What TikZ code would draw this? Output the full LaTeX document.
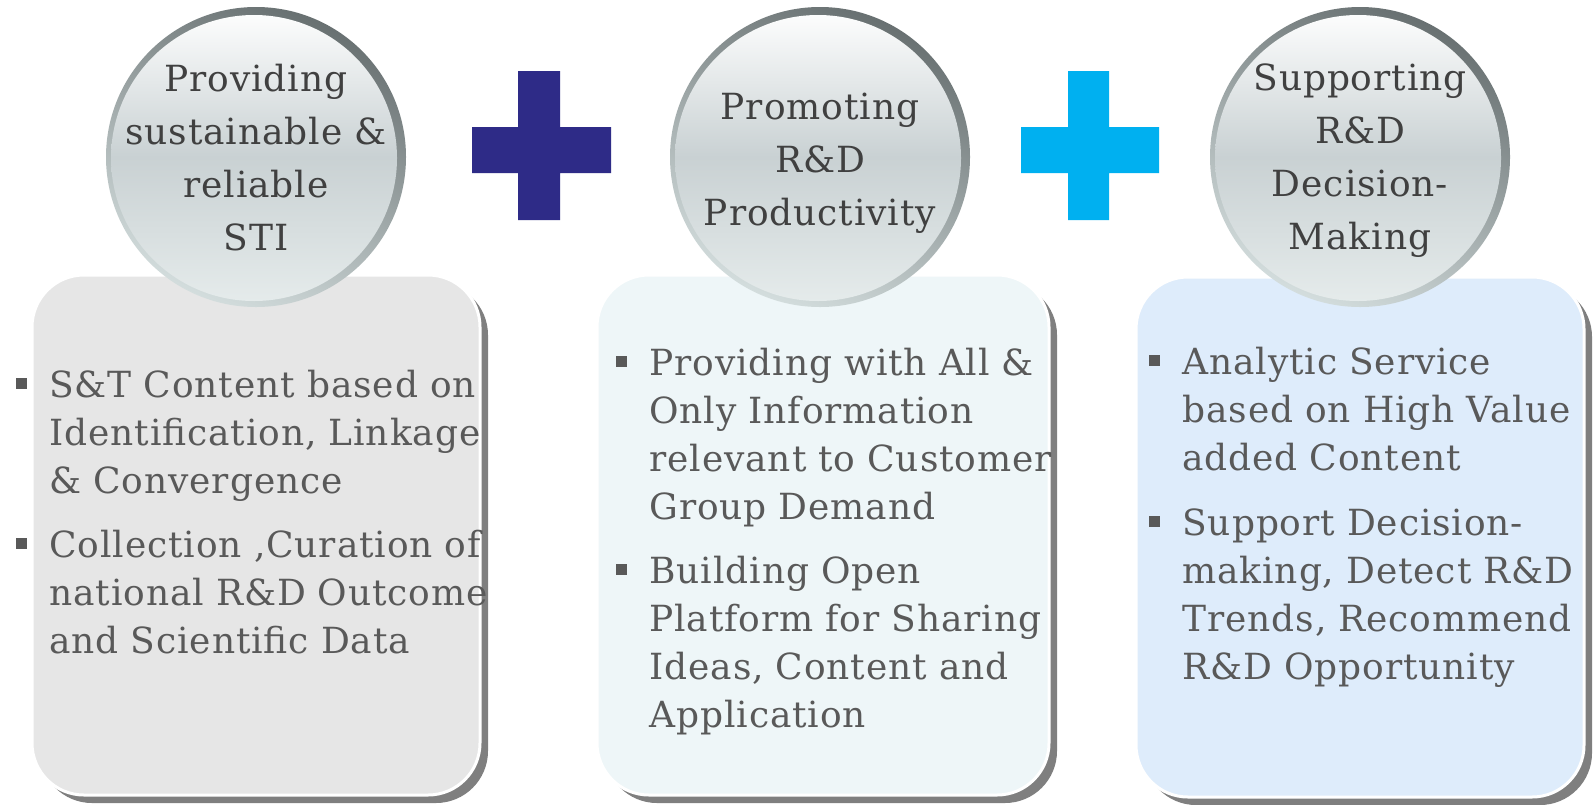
\documentclass[tikz,border=0pt]{standalone}
\usepackage{fontspec}
\setmainfont[LetterSpace=2.5]{DejaVu Serif}
\usetikzlibrary{calc}
\usetikzlibrary{positioning}
\usetikzlibrary{shadows}

\definecolor{plusnavy}{HTML}{2E2B87}
\definecolor{pluscyan}{HTML}{00B0F0}
\definecolor{panelgrey}{HTML}{E6E6E6}
\definecolor{panelmint}{HTML}{EEF6F8}
\definecolor{panelsky}{HTML}{DEECFB}
\definecolor{rimdark}{HTML}{687071}
\definecolor{rimlight}{HTML}{D3DDDD}
\definecolor{glassmid}{HTML}{C9D1D3}
\definecolor{glasslow}{HTML}{E6ECEC}
\definecolor{bodytext}{HTML}{595959}
\definecolor{headtext}{HTML}{404040}

\begin{document}
\begin{tikzpicture}[x=0.5pt, y=-0.5pt,
    panel/.style={rectangle, rounded corners=26pt, draw=white, line width=1.5pt,
                  minimum width=224pt, minimum height=260pt,
                  drop shadow={shadow xshift=4pt, shadow yshift=-4pt, fill=black, opacity=0.5}},
    bubble/.style={circle, minimum size=150pt, inner sep=0pt,
                   top color=rimdark, bottom color=rimlight, shading angle=-25,
                   path picture={\shade[top color=white, bottom color=glasslow, middle color=glassmid]
                     ([shift={(-2,1)}]path picture bounding box.center) circle[radius=71.5pt];}},
    head/.style={anchor=base, align=center, text width=150pt, inner sep=0pt,
                 text=headtext, font=\fontsize{18}{26.5}\selectfont},
    item/.style={anchor=base west, align=left, text width=232pt, inner sep=0pt,
                 text=bodytext, font=\fontsize{18}{24}\selectfont},
    sq/.style={rectangle, fill=bodytext, minimum size=5.5pt, inner sep=0pt}]

	\fill[white] (0,0) rectangle (1593,804);
	\useasboundingbox (0,0) rectangle (1593,804);

	% panels
	\node[panel, fill=panelgrey] (p1) at (256,535) {};
	\node[panel, fill=panelmint, minimum width=226pt] (p2) at (823,535) {};
	\node[panel, fill=panelsky] (p3) at (1360,537) {};

	% plus signs
	\fill[plusnavy] (472,127) rectangle (611,173) (518,71) rectangle (560,220);
	\fill[pluscyan] (1021,127) rectangle (1159,173) (1068,71) rectangle (1109,220);

	% glass bubbles
	\node[bubble] (c1) at (256,157) {};
	\node[bubble] (c2) at (820,157) {};
	\node[bubble] (c3) at (1360,157) {};
	\node[head] (h1) at (256,91) {Providing\\sustainable \&\\reliable\\STI};
	\node[head] (h2) at (820,119) {Promoting\\R\&D\\Productivity};
	\node[head] (h3) at (1360,90) {Supporting\\R\&D\\Decision-\\Making};

	% bullet texts
	\node[item] (t11) at (49,397) {S\&T Content based on\\Identification, Linkage\\\& Convergence};
	\node[item] (t12) at (49,557) {Collection ,Curation of\\national R\&D Outcome\\and Scientific Data};
	\node[item] (t21) at (649,375) {Providing with All \&\\Only Information\\relevant to Customer\\Group Demand};
	\node[item] (t22) at (649,583) {Building Open\\Platform for Sharing\\Ideas, Content and\\Application};
	\node[item] (t31) at (1182,374) {Analytic Service\\based on High Value\\added Content};
	\node[item] (t32) at (1182,535) {Support Decision-\\making, Detect R\&D\\Trends, Recommend\\R\&D Opportunity};

	\foreach \t in {t11,t12,t21,t22,t31,t32}{
		\node[sq] (q\t) at ([shift={(-28,-14)}]\t.base west) {};
	}
\end{tikzpicture}
\end{document}
